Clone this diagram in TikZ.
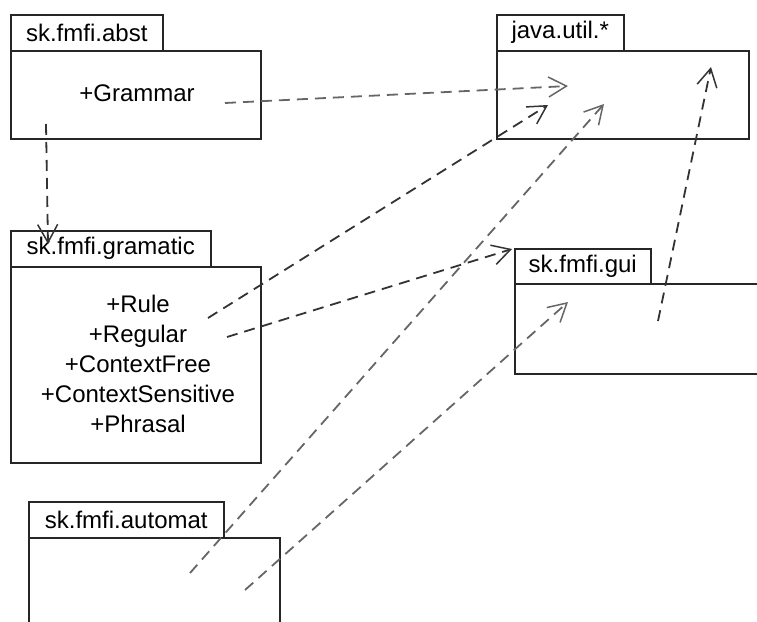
\documentclass[tikz,border=0pt]{standalone}
\usepackage{fontspec}
\setmainfont{Liberation Sans}
\usetikzlibrary{arrows.meta}
\tikzset{
  pkg/.style={draw=black!85, line width=1.5pt, anchor=north west, inner sep=0pt},
  dep/.style={dash pattern=on 11pt off 7pt, line width=1.8pt, draw=black!80,
    -{Straight Barb[length=18pt,width=20pt,line width=1.5pt]}},
  faded/.style={draw=black!60},
}
\begin{document}
\begin{tikzpicture}[x=1pt,y=-1pt,font=\fontsize{24}{30}\selectfont]
\useasboundingbox (0,0) rectangle (757,621);
\clip (0,0) rectangle (757,621);
\node[pkg, minimum width=250pt, minimum height=88pt] (abstBody) at (10,50) {};
\node[pkg, minimum width=152pt, minimum height=36pt] (abstTab) at (10,14) {sk.fmfi.abst};
\node[pkg, minimum width=252pt, minimum height=88pt] (utilBody) at (496,50) {};
\node[pkg, minimum width=127pt, minimum height=36pt] (utilTab) at (496,14) {java.util.*};
\node[pkg, minimum width=250pt, minimum height=196pt] (gramBody) at (10,266) {};
\node[pkg, minimum width=200pt, minimum height=36pt] (gramTab) at (10,230) {sk.fmfi.gramatic};
\node[pkg, minimum width=260pt, minimum height=90pt] (guiBody) at (514,283) {};
\node[pkg, minimum width=136pt, minimum height=35pt] (guiTab) at (514,248) {sk.fmfi.gui};
\node[pkg, minimum width=251pt, minimum height=100pt] (autoBody) at (28,537) {};
\node[pkg, minimum width=195pt, minimum height=36pt] (autoTab) at (28,501) {sk.fmfi.automat};
\node (grammar) at (137,93) {+Grammar};
\node[align=center] (gramList) at (138,364) {+Rule\\+Regular\\+ContextFree\\+ContextSensitive\\+Phrasal};
\coordinate (grammarOut) at (225,103);
\coordinate (utilInA) at (568,86);
\coordinate (ruleOut) at (208,318);
\coordinate (utilInB) at (548,105);
\coordinate (regularOut) at (227,337);
\coordinate (guiTabIn) at (512,249);
\coordinate (autoOutA) at (190,573);
\coordinate (utilInC) at (604,104);
\coordinate (autoOutB) at (245,590);
\coordinate (guiIn) at (568,302);
\coordinate (guiOut) at (658,321);
\coordinate (utilInD) at (711,67);
\coordinate (abstOut) at (46,124);
\coordinate (gramIn) at (48,244);
\draw[dep] (abstOut) -- (gramIn);
\draw[dep,faded] (grammarOut) -- (utilInA);
\draw[dep] (ruleOut) -- (utilInB);
\draw[dep] (regularOut) -- (guiTabIn);
\draw[dep,faded] (autoOutA) -- (utilInC);
\draw[dep,faded] (autoOutB) -- (guiIn);
\draw[dep] (guiOut) -- (utilInD);
\end{tikzpicture}
\end{document}
